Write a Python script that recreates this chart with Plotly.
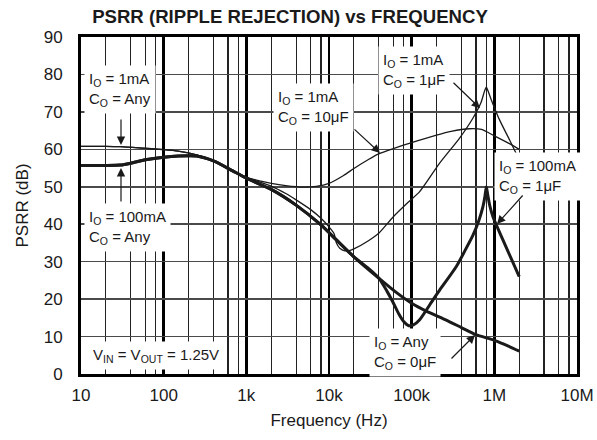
import plotly.graph_objects as go

# ---------------- data ----------------
f_1mA_10uF = [10, 20, 30, 50, 100, 150, 250, 400, 640, 1000, 1500, 2000, 3000, 5000, 7000,
              10000, 15000, 20000, 30000, 40000, 60000, 100000, 200000, 300000, 500000,
              700000, 1000000, 1500000, 2000000]
psrr_1mA_10uF = [60.8, 60.8, 60.7, 60.4, 59.9, 59.5, 58.5, 56.9, 54.6, 52.5, 51.5, 50.9, 50.3,
                 49.9, 50.1, 50.9, 53.0, 54.9, 57.3, 58.8, 60.2, 61.8, 63.8, 64.8, 65.5,
                 65.3, 63.6, 61.6, 60.0]

f_1mA_1uF = [10, 20, 30, 50, 100, 150, 250, 400, 640, 1000, 1500, 2000, 3000, 4000, 6000,
             8000, 10000, 11500, 12300, 13500, 15500, 18000, 20000, 30000, 40000, 60000,
             90000, 125000, 218000, 380000, 550000, 690000, 760000, 800000, 840000, 920000,
             1160000, 1530000, 2000000]
psrr_1mA_1uF = [60.8, 60.8, 60.7, 60.4, 59.9, 59.5, 58.5, 56.9, 54.6, 52.5, 51.2, 50.2, 48.2,
                46.5, 43.9, 41.6, 39.3, 37.5, 35.0, 33.6, 32.9, 33.0, 33.4, 35.6, 37.6, 42.0,
                45.8, 48.7, 56.3, 63.0, 68.3, 72.5, 75.5, 76.6, 75.6, 73.2, 67.8, 62.5, 57.2]

f_any_0uF = [10, 20, 30, 40, 60, 100, 150, 250, 400, 640, 1000, 2000, 4000, 8000, 12300,
             20000, 40000, 65000, 100000, 150000, 262000, 400000, 600000, 1000000, 1500000,
             2000000]
psrr_any_0uF = [55.7, 55.7, 55.8, 56.3, 57.2, 57.9, 58.2, 58.2, 56.9, 54.6, 52.3, 49.3, 45.1,
                39.8, 35.8, 31.3, 25.6, 21.8, 18.9, 16.8, 14.4, 12.4, 10.5, 9.0, 7.4, 6.1]

f_100mA_1uF = [10, 20, 30, 40, 60, 100, 150, 250, 400, 640, 1000, 2000, 4000, 8000, 12300,
               20000, 30000, 40000, 50000, 59000, 70000, 80000, 92000, 105000, 125000, 181000,
               218000, 347000, 450000, 550000, 650000, 728000, 770000, 800000, 830000, 880000,
               962000, 1270000, 2000000]
psrr_100mA_1uF = [55.7, 55.7, 55.8, 56.3, 57.2, 57.9, 58.2, 58.2, 56.9, 54.6, 52.3, 49.3, 45.1,
                  39.8, 35.8, 31.3, 28.2, 25.6, 22.2, 19.3, 16.0, 14.0, 12.9, 13.1, 14.5, 19.8,
                  22.4, 28.7, 33.3, 37.0, 41.0, 44.7, 47.5, 50.0, 48.0, 45.0, 42.0, 35.8, 26.0]

x_tickvals = [10, 100, 1000, 10000, 100000, 1000000, 10000000]
x_ticktext = ["10", "100", "1k", "10k", "100k", "1M", "10M"]
x_minor_vals = [m * d for d in [10, 100, 1000, 10000, 100000, 1000000] for m in (2, 4, 6, 8)]
y_tickvals = list(range(0, 91, 10))

FONT = "Liberation Sans, Arial, Helvetica, sans-serif"
INK = "#1a1a1a"

fig = go.Figure()
series = [
    (f_1mA_10uF, psrr_1mA_10uF, 1.3),
    (f_1mA_1uF, psrr_1mA_1uF, 1.3),
    (f_any_0uF, psrr_any_0uF, 3.0),
    (f_100mA_1uF, psrr_100mA_1uF, 3.0),
]
for fx, vy, w in series:
    fig.add_trace(go.Scatter(x=fx, y=vy, mode="lines",
                             line=dict(color=INK, width=w, shape="spline", smoothing=0.6),
                             showlegend=False, hoverinfo="skip"))

# ---------- layout geometry ----------
W, H = 597, 440
PLOT_L, PLOT_R, PLOT_T, PLOT_B = 81, 577, 37, 374   # plot area in page pixels
L, T, R, B = PLOT_L, PLOT_T, W - PLOT_R, H - PLOT_B
PW, PH = PLOT_R - PLOT_L, PLOT_B - PLOT_T


def px(xp):
    return (xp - PLOT_L) / PW


def py(yp):
    return (PLOT_B - yp) / PH


annotations = []
labels = [
    ("I<sub>O</sub> = 1mA<br>C<sub>O</sub> = Any", 84, 89.5),
    ("I<sub>O</sub> = 100mA<br>C<sub>O</sub> = Any", 84, 227.5),
    ("I<sub>O</sub> = 1mA<br>C<sub>O</sub> = 10μF", 273, 107.5),
    ("I<sub>O</sub> = 1mA<br>C<sub>O</sub> = 1μF", 378, 70.7),
    ("I<sub>O</sub> = 100mA<br>C<sub>O</sub> = 1μF", 494, 176),
    ("I<sub>O</sub> = Any<br>C<sub>O</sub> = 0μF", 369, 352.5),
    ("V<sub>IN</sub> = V<sub>OUT</sub> = 1.25V", 88, 355),
]
for text, lx, ly in labels:
    annotations.append(dict(text=text, xref="paper", yref="paper", x=px(lx), y=py(ly),
                            xanchor="left", yanchor="middle", align="left", showarrow=False,
                            bgcolor="white", borderpad=4,
                            font=dict(family=FONT, size=15, color=INK)))

arrows = [
    (121, 145, 0, -27),
    (121, 168, 0, 35),
    (380, 153, -27, -25),
    (480, 108.3, -28, -27),
    (497, 224, 27, -30),
    (475, 335, -25, 25),
]
for tx, ty, ax, ay in arrows:
    annotations.append(dict(text="", xref="paper", yref="paper", x=px(tx), y=py(ty),
                            ax=ax, ay=ay, showarrow=True, arrowhead=2, arrowsize=1.4,
                            arrowwidth=1.2, arrowcolor=INK))

fig.update_layout(
    width=W, height=H,
    margin=dict(l=L, r=R, t=T, b=B, autoexpand=False),
    paper_bgcolor="white", plot_bgcolor="white",
    font=dict(family=FONT, size=17, color=INK),
    title=dict(text="<b>PSRR (RIPPLE REJECTION) vs FREQUENCY</b>",
               x=290 / W, y=1 - 16 / H, xref="container", yref="container",
               xanchor="center", yanchor="middle",
               font=dict(family=FONT, size=18.6, color=INK)),
    annotations=annotations,
    hovermode=False,
    dragmode=False,
)

fig.update_xaxes(
    type="log", range=[1, 7],
    tickvals=x_tickvals, ticktext=x_ticktext,
    ticks="", ticklabelstandoff=4,
    showgrid=True, gridcolor="#000000", gridwidth=2.4,
    minor=dict(tickvals=x_minor_vals, showgrid=True, gridcolor="#222222", gridwidth=1.2,
               ticks=""),
    showline=True, linecolor="#000000", linewidth=3, mirror=True,
    zeroline=False,
    title=dict(text="Frequency (Hz)", standoff=10, font=dict(size=17)),
    tickfont=dict(size=17),
)
fig.update_yaxes(
    range=[0, 90], tickvals=y_tickvals,
    ticks="", ticklabelstandoff=12,
    showgrid=True, gridcolor="#4a4a4a", gridwidth=1.5,
    showline=True, linecolor="#000000", linewidth=3, mirror=True,
    zeroline=False,
    title=dict(text="PSRR (dB)", standoff=11, font=dict(size=17)),
    tickfont=dict(size=17),
)

fig.write_html("out.html",
               config={"displayModeBar": False, "staticPlot": True},
               post_script="document.body.style.margin='0px';"
                           "document.body.style.overflow='hidden';")
